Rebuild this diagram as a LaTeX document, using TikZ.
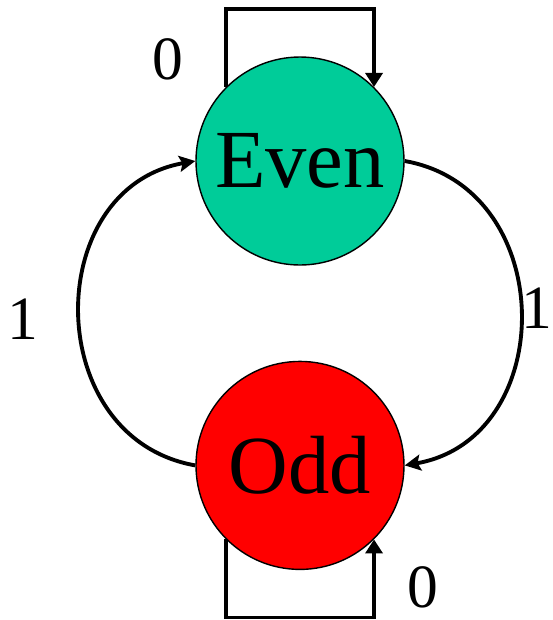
\documentclass[tikz,border=0pt]{standalone}
\usepackage{fontspec}
\setmainfont{Liberation Serif}
\usetikzlibrary{arrows.meta,positioning}
\definecolor{evengreen}{RGB}{0,204,153}
\definecolor{oddred}{RGB}{255,0,0}

\begin{document}
\begin{tikzpicture}[
  node distance=1.9cm,
  state/.style={circle, draw=black, line width=0.8pt, minimum size=4.16cm, inner sep=0pt, font=\fontsize{47}{50}\selectfont},
  lbl/.style={font=\fontsize{35}{38}\selectfont, inner sep=0pt},
  arr/.style={-{Stealth[length=0.32cm, width=0.32cm, inset=0.06cm]}, line width=2.2pt},
  selfarr/.style={-{Triangle[length=0.28cm, width=0.34cm]}, line width=2.2pt}
]
\useasboundingbox (0,0) rectangle (11.06,-12.4);
\node[state, fill=evengreen] (even) at (6,-3.22) {Even};
\node[state, fill=oddred, below=of even] (odd) {Odd};
% self loops
\draw[selfarr] (even.135) -- ++(0,1.56) -| (even.45);
\draw[selfarr] (odd.225) -- ++(0,-1.56) -| (odd.315);
% transitions on 1
\draw[arr] (odd.west) to[out=170, in=190, looseness=1.32] (even.west);
\draw[arr] (even.east) to[out=-10, in=10, looseness=1.32] (odd.east);
% labels
\node[lbl] (ze) at (3.36,-1.18) {0};
\node[lbl] (zo) at (8.46,-11.74) {0};
\node[lbl] (oe) at (0.46,-6.38) {1};
\node[lbl] (oo) at (10.74,-6.16) {1};
\end{tikzpicture}
\end{document}
